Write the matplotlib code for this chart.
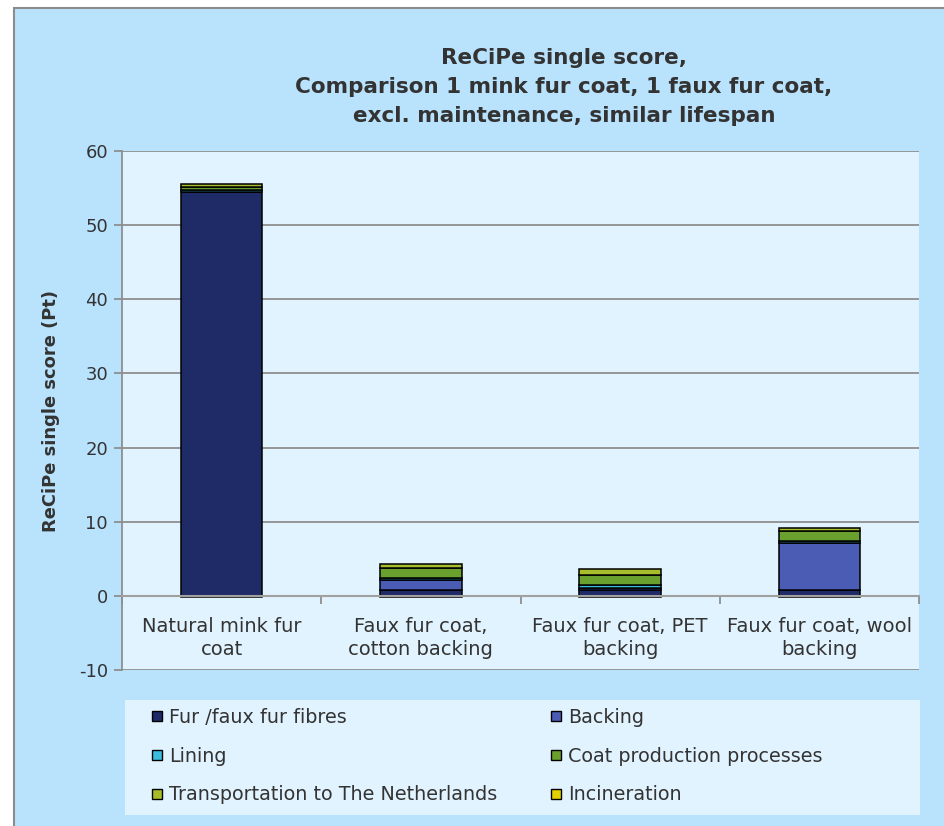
import matplotlib
matplotlib.use("Agg")
import matplotlib.pyplot as plt
import numpy as np
from matplotlib.patches import Rectangle
from matplotlib.lines import Line2D

categories = ["Natural mink fur\ncoat", "Faux fur coat,\ncotton backing",
              "Faux fur coat, PET\nbacking", "Faux fur coat, wool\nbacking"]
series_names = ["Fur /faux fur fibres", "Backing", "Lining",
                "Coat production processes", "Transportation to The Netherlands",
                "Incineration"]
fur = [54.5, 0.8, 0.8, 0.8]
backing = [0.0, 1.3, 0.3, 6.3]
lining = [0.3, 0.3, 0.3, 0.3]
coat_production = [0.3, 1.4, 1.4, 1.4]
transport = [0.4, 0.5, 0.8, 0.4]
incineration = [-0.2, -0.2, -0.2, -0.2]
y_ticks = [-10, 0, 10, 20, 30, 40, 50, 60]

colors = ["#1F2B66", "#4A5CB4", "#3BBCDD", "#6AA12E", "#A7BD2B", "#E2D000"]

W, H = 944, 826
plt.rcParams['font.family'] = ['DejaVu Sans']
plt.rcParams['axes.unicode_minus'] = False
fig = plt.figure(figsize=(W / 100, H / 100), dpi=100)
fig.patch.set_facecolor("white")
txt = "#333333"
grid_c = "#8E8E8E"

# outer chart area
fig.patches.append(Rectangle((14 / W, -0.1), 1.2, (H - 8) / H + 0.1,
                             transform=fig.transFigure, facecolor="#B9E3FC",
                             edgecolor="#8C8C8C", lw=1.5, zorder=-2))
# legend background
fig.patches.append(Rectangle((125 / W, (H - 815) / H), (920 - 125) / W, 115 / H,
                             transform=fig.transFigure, facecolor="#E1F3FE",
                             edgecolor="none", zorder=-1))

ax = fig.add_axes([122 / W, (H - 670) / H, (919 - 122) / W, (670 - 151) / H])
ax.set_facecolor("#E1F3FE")

x = np.arange(len(categories))
width = 0.41
pos_series = [fur, backing, lining, coat_production, transport]
bottom = np.zeros(len(categories))
for vals, c, name in zip(pos_series, colors[:5], series_names[:5]):
    v = np.array(vals)
    ax.bar(x, v, width, bottom=bottom, color=c, edgecolor="black", lw=1.1,
           zorder=3, label=name)
    bottom += v
ax.bar(x, incineration, width, color=colors[5], edgecolor="black", lw=1.1,
       zorder=3, label=series_names[5])

ax.set_xlim(-0.5, len(categories) - 0.5)
ax.set_ylim(-10, 60)
ax.set_yticks(y_ticks)
ax.yaxis.grid(True, color=grid_c, lw=1.3, zorder=0)
ax.set_axisbelow(True)
ax.tick_params(axis="y", direction="out", length=6, color=grid_c, labelsize=13,
               labelcolor=txt, pad=4, width=1.3)

ax.spines["bottom"].set_position(("data", 0))
ax.spines["bottom"].set_color("#A0A0A0")
ax.spines["bottom"].set_linewidth(1.5)
ax.spines["bottom"].set_zorder(4)
ax.spines["left"].set_color(grid_c)
ax.spines["left"].set_linewidth(1.3)
ax.spines["top"].set_visible(False)
ax.spines["right"].set_visible(False)

ax.set_xticks(x)
ax.set_xticklabels(categories, linespacing=1.27)
ax.set_xticks(np.arange(len(categories) + 1) - 0.5, minor=True)
ax.tick_params(axis="x", which="major", length=0, pad=15, labelsize=14,
               labelcolor=txt)
ax.tick_params(axis="x", which="minor", length=6, direction="out", color=grid_c,
               width=1.3)

ax.set_ylabel("ReCiPe single score (Pt)", fontsize=12.9, fontweight="bold", color=txt)
ax.yaxis.set_label_coords((60 - 122) / (919 - 122), 0.5)

fig.text(564 / W, (H - 87) / H,
         "ReCiPe single score,\nComparison 1 mink fur coat, 1 faux fur coat,\nexcl. maintenance, similar lifespan",
         ha="center", va="center", fontsize=15.5, fontweight="bold", color=txt,
         linespacing=1.57)

handles = [Line2D([], [], marker="s", ls="none", markersize=7.5,
                  markerfacecolor=c, markeredgecolor="black", markeredgewidth=1.0)
           for c in colors]
order = [0, 2, 4, 1, 3, 5]
leg = fig.legend([handles[i] for i in order], [series_names[i] for i in order],
                 ncol=2, loc="upper left",
                 bbox_to_anchor=(152 / W, (H - 708) / H),
                 frameon=False, fontsize=13.8, handlelength=0.55,
                 handletextpad=0.35, labelspacing=1.03, columnspacing=2.76,
                 borderpad=0, borderaxespad=0, labelcolor=txt)

fig.savefig("out.png", dpi=100)
